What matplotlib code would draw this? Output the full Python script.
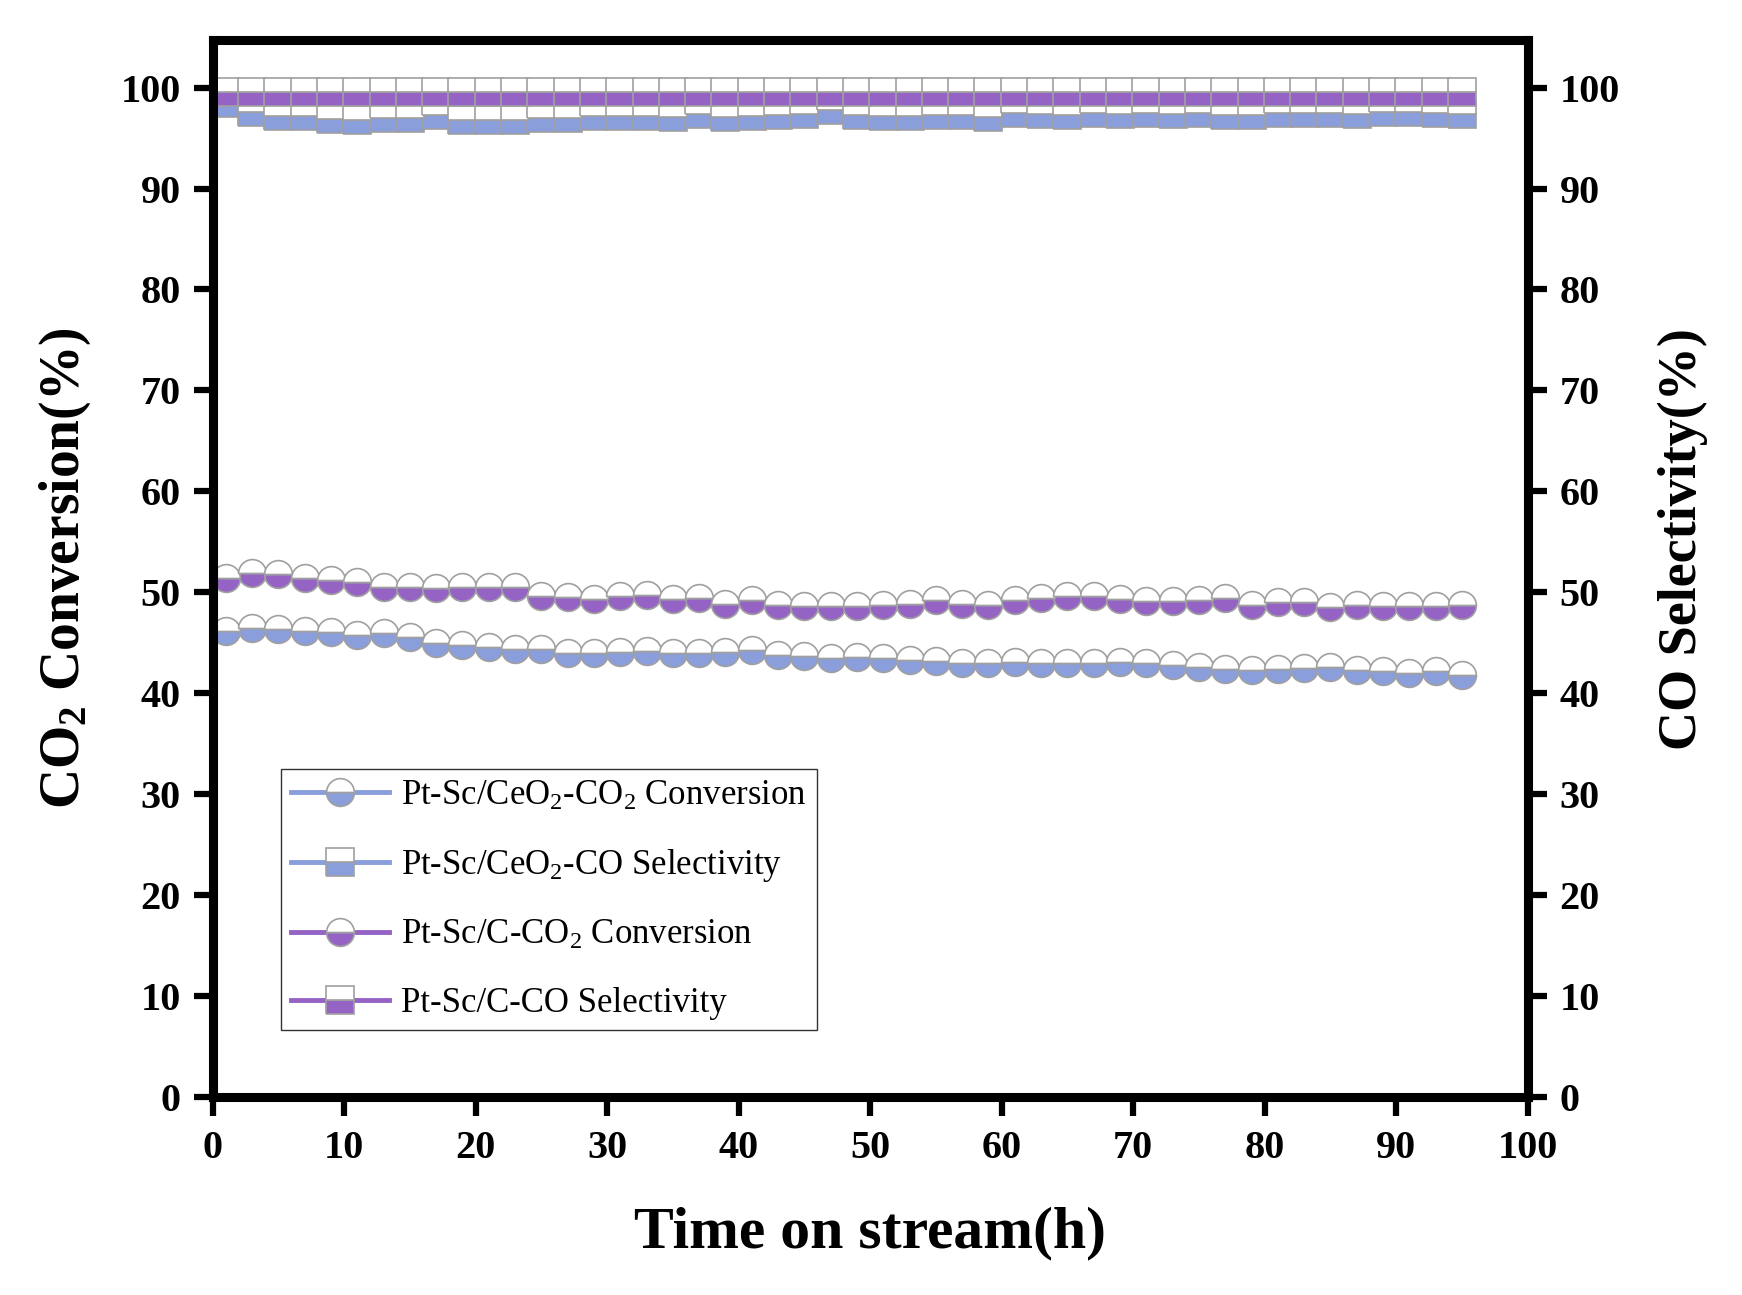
import matplotlib
matplotlib.use('Agg')
import matplotlib.pyplot as plt

plt.rcParams['font.family'] = ['Liberation Serif', 'DejaVu Serif']
plt.rcParams['mathtext.fontset'] = 'custom'
plt.rcParams['mathtext.rm'] = 'Liberation Serif'
plt.rcParams['mathtext.it'] = 'Liberation Serif:italic'
plt.rcParams['mathtext.bf'] = 'Liberation Serif:bold'

time_h = list(range(1, 96, 2))

ceo2_conv = [46.2, 46.5, 46.4, 46.2, 46.1, 45.8, 46.0, 45.6, 45.0, 44.8, 44.6, 44.4,
             44.4, 44.0, 44.0, 44.1, 44.2, 44.0, 44.0, 44.1, 44.3, 43.8, 43.7, 43.5,
             43.6, 43.5, 43.3, 43.2, 43.0, 43.0, 43.1, 43.0, 43.0, 43.0, 43.1, 43.0,
             42.8, 42.6, 42.4, 42.3, 42.4, 42.5, 42.6, 42.3, 42.2, 42.0, 42.2, 41.8]
ceo2_sel = [98.5, 97.6, 97.2, 97.2, 96.9, 96.8, 97.0, 97.0, 97.3, 96.8, 96.8, 96.8,
            97.0, 97.0, 97.2, 97.2, 97.2, 97.1, 97.4, 97.1, 97.2, 97.3, 97.4, 97.8,
            97.3, 97.2, 97.2, 97.3, 97.3, 97.1, 97.5, 97.4, 97.3, 97.5, 97.4, 97.5,
            97.4, 97.5, 97.3, 97.3, 97.5, 97.5, 97.5, 97.4, 97.6, 97.6, 97.5, 97.4]
c_conv = [51.4, 51.9, 51.8, 51.4, 51.2, 51.0, 50.5, 50.5, 50.4, 50.5, 50.5, 50.5,
          49.6, 49.5, 49.3, 49.6, 49.7, 49.3, 49.4, 48.8, 49.2, 48.7, 48.6, 48.6,
          48.6, 48.7, 48.8, 49.2, 48.8, 48.7, 49.2, 49.4, 49.6, 49.6, 49.3, 49.1,
          49.1, 49.2, 49.4, 48.7, 49.0, 49.0, 48.5, 48.7, 48.6, 48.6, 48.6, 48.7]
c_sel = [99.6] * 48

labels = [r'Pt-Sc/CeO$_2$-CO$_2$ Conversion',
          r'Pt-Sc/CeO$_2$-CO Selectivity',
          r'Pt-Sc/C-CO$_2$ Conversion',
          r'Pt-Sc/C-CO Selectivity']

blue = '#8A9EDC'
purple = '#9563C4'

fig = plt.figure(figsize=(17.42, 12.95), dpi=100)
ax = fig.add_axes([0.122, 0.153, 0.755, 0.816])
ax2 = ax.twinx()

mk = dict(markersize=20, fillstyle='bottom', markerfacecoloralt='white',
          markeredgecolor='#a0a0a0', markeredgewidth=1.2, linewidth=3.5)

l1, = ax.plot(time_h, ceo2_conv, marker='o', color=blue, label=labels[0], **mk)
l3, = ax.plot(time_h, c_conv, marker='o', color=purple, label=labels[2], **mk)
l2, = ax2.plot(time_h, ceo2_sel, marker='s', color=blue, label=labels[1], **mk)
l4, = ax2.plot(time_h, c_sel, marker='s', color=purple, label=labels[3], **mk)

ax.set_xticks(range(0, 101, 10))
for a in (ax, ax2):
    a.set_xlim(0, 100)
    a.set_ylim(0, 104.7)
    a.set_yticks(range(0, 101, 10))
    for s in a.spines.values():
        s.set_linewidth(6.5)
    a.tick_params(direction='out', length=14, width=4.5, labelsize=29, pad=9)
    for t in a.get_yticklabels() + a.get_xticklabels():
        t.set_fontweight('bold')
ax.tick_params(axis='x', pad=10)

ax.set_xlabel('Time on stream(h)', fontsize=43, fontweight='bold', labelpad=28)
ax.set_ylabel(r'CO$_\mathbf{2}$ Conversion(%)', fontsize=40, fontweight='bold', labelpad=20)
ax2.text(1.118, 0.528, 'CO Selectivity(%)', transform=ax2.transAxes, rotation=90,
         ha='center', va='center', fontsize=39, fontweight='bold')

leg = ax.legend(handles=[l1, l2, l3, l4], loc='lower left',
                bbox_to_anchor=(0.052, 0.063), borderaxespad=0, fontsize=25,
                frameon=True, fancybox=False, edgecolor='black', handlelength=2.8,
                labelspacing=1.0, borderpad=0.3, handletextpad=0.35)
leg.get_frame().set_linewidth(1.0)

fig.savefig('out.png', dpi=100)
